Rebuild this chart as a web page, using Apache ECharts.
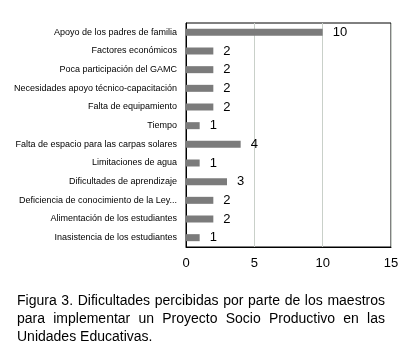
<!DOCTYPE html>
<html>
<head>
<meta charset="utf-8">
<script src="https://cdn.jsdelivr.net/npm/echarts@6/dist/echarts.min.js"></script>
<style>
  html, body { margin: 0; padding: 0; background: #fff; }
  #chart { position: absolute; left: 0; top: 0; width: 416px; height: 355px; }
  .caption {
    position: absolute; left: 17px; top: 291px; width: 368px;
    font-family: 'Liberation Sans', Arial, sans-serif; font-size: 14px;
    line-height: 18px; color: #000;
  }
  .caption div { text-align: justify; text-align-last: justify; white-space: nowrap; }
  .caption div.last { text-align-last: left; }
</style>
</head>
<body>
<div id="chart"></div>
<div class="caption">
  <div>Figura 3. Dificultades percibidas por parte de los maestros</div>
  <div>para implementar un Proyecto Socio Productivo en las</div>
  <div class="last">Unidades Educativas.</div>
</div>
<script>
// categorias (de arriba hacia abajo)
var categories = [
  'Apoyo de los padres de familia',
  'Factores económicos',
  'Poca participación del GAMC',
  'Necesidades apoyo técnico-capacitación',
  'Falta de equipamiento',
  'Tiempo',
  'Falta de espacio para las carpas solares',
  'Limitaciones de agua',
  'Dificultades de aprendizaje',
  'Deficiencia de conocimiento de la Ley...',
  'Alimentación de los estudiantes',
  'Inasistencia de los estudiantes'
]
var values = [10, 2, 2, 2, 2, 1, 4, 1, 3, 2, 2, 1]
var xMin = 0
var xMax = 15
var xStep = 5

var myChart = echarts.init(document.getElementById('chart'))
var option = {
  animation: false,
  textStyle: { fontFamily: 'Liberation Sans, Arial, sans-serif' },
  grid: {
    left: 186,
    right: 25,
    top: 23,
    height: 224,
    show: true, // recuadro negro alrededor del area
    borderColor: '#000',
    borderWidth: 1
  },
  xAxis: {
    type: 'value',
    min: xMin,
    max: xMax,
    interval: xStep,
    axisLine: { show: true, lineStyle: { color: '#000', width: 1 } },
    axisTick: { show: false },
    splitLine: { show: true, lineStyle: { color: '#c9d0c9', width: 1 } },
    axisLabel: { color: '#000', fontSize: 13, margin: 10 }
  },
  yAxis: {
    type: 'category',
    inverse: true,
    data: categories,
    axisLine: { show: true, lineStyle: { color: '#000', width: 1 } },
    axisTick: { show: false },
    axisLabel: { color: '#000', fontSize: 9, margin: 9 }
  },
  series: [
    {
      type: 'bar',
      data: values,
      barWidth: 7,
      itemStyle: { color: '#7b7b7b' },
      label: {
        show: true,
        position: 'right',
        distance: 10,
        color: '#000',
        fontSize: 13
      }
    }
  ]
}
myChart.setOption(option)
</script>
</body>
</html>
